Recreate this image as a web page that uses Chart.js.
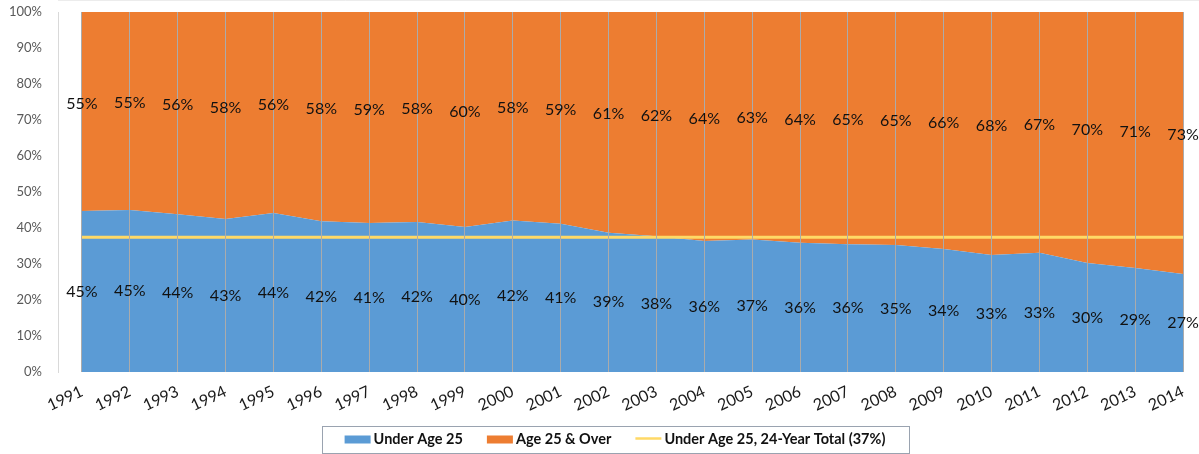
<!DOCTYPE html>
<html>
<head>
<meta charset="utf-8">
<script src="https://cdn.jsdelivr.net/npm/chart.js@4.4.1/dist/chart.umd.min.js"></script>
<style>
html,body{margin:0;padding:0;overflow:hidden;background:#fff;width:1199px;height:454px}
#wrap{position:absolute;left:0;top:0;width:1230px;height:454px}
</style>
</head>
<body>
<div id="wrap"><canvas id="c" width="1230" height="454"></canvas></div>
<script>
// ---- data ----
const years = ['1991','1992','1993','1994','1995','1996','1997','1998','1999','2000','2001','2002','2003','2004','2005','2006','2007','2008','2009','2010','2011','2012','2013','2014'];
const underAge25 = [44.7,45.0,43.8,42.5,44.2,41.9,41.4,41.7,40.3,42.1,41.2,38.7,37.7,36.4,36.8,35.9,35.5,35.3,34.2,32.5,33.1,30.3,28.9,27.2];
const age25Over  = [55.3,55.0,56.2,57.5,55.8,58.1,58.6,58.3,59.7,57.9,58.8,61.3,62.3,63.6,63.2,64.1,64.5,64.7,65.8,67.5,66.9,69.7,71.1,72.8];
const totalUnder25 = [37.4,37.4,37.4,37.4,37.4,37.4,37.4,37.4,37.4,37.4,37.4,37.4,37.4,37.4,37.4,37.4,37.4,37.4,37.4,37.4,37.4,37.4,37.4,37.4];
const yTickValues = [0,10,20,30,40,50,60,70,80,90,100];
const seriesNames = ['Under Age 25','Age 25 & Over','Under Age 25, 24-Year Total (37%)'];

const BLUE = '#5B9BD5', ORANGE = '#ED7D31', YELLOW = '#FFD966';
const FONT = 'Lato, "Open Sans", sans-serif';

const labelPlugin = {
  id: 'areaLabels',
  afterDraw(chart) {
    const ctx = chart.ctx, xs = chart.scales.x, ys = chart.scales.y;
    ctx.save();
    ctx.font = '16px ' + FONT;
    ctx.fillStyle = '#111';
    ctx.textAlign = 'center';
    ctx.textBaseline = 'middle';
    years.forEach((y, i) => {
      const x = xs.getPixelForValue(i);
      const b = underAge25[i], o = age25Over[i];
      ctx.fillText(Math.round(b) + '%', x, ys.getPixelForValue(b / 2));
      ctx.fillText(Math.round(o) + '%', x, ys.getPixelForValue(b + o / 2) - 8);
    });
    ctx.restore();
  }
};

const legendPlugin = {
  id: 'boxLegend',
  afterDraw(chart) {
    const ctx = chart.ctx;
    ctx.save();
    ctx.font = 'bold 14.5px ' + FONT;
    const ds = chart.data.datasets;
    const symW = 26, gap = 3, itemGap = 24, pad = 23;
    const widths = ds.map(d => ctx.measureText(d.label).width);
    let total = 0;
    widths.forEach((w, i) => { total += symW + gap + w + (i ? itemGap : 0); });
    const cx = chart.width / 2;
    const boxL = Math.round(cx - total / 2 - pad) + 0.5;
    const boxW = Math.round(total + 2 * pad);
    const top = 426.5, h = 27, cy = 439.5;
    ctx.strokeStyle = '#9AA3B0';
    ctx.lineWidth = 1;
    ctx.strokeRect(boxL, top, boxW, h);
    let x = cx - total / 2;
    ds.forEach((d, i) => {
      if (d.pointStyle === 'line') {
        ctx.strokeStyle = d.borderColor;
        ctx.lineWidth = 2.5;
        ctx.beginPath(); ctx.moveTo(x, cy - 1); ctx.lineTo(x + symW, cy - 1); ctx.stroke();
      } else {
        ctx.fillStyle = d.backgroundColor;
        ctx.fillRect(x, cy - 4, symW, 8);
      }
      x += symW + gap;
      ctx.fillStyle = '#111';
      ctx.textAlign = 'left';
      ctx.textBaseline = 'middle';
      ctx.fillText(d.label, x, cy);
      x += widths[i] + itemGap;
    });
    ctx.restore();
  }
};

new Chart(document.getElementById('c'), {
  type: 'line',
  data: {
    labels: years,
    datasets: [
      { label: seriesNames[0], data: underAge25, backgroundColor: BLUE, borderColor: 'rgba(0,0,0,0)', borderWidth: 0,
        fill: 'origin', pointRadius: 0, pointStyle: 'rect', stack: 'share', order: 1, tension: 0 },
      { label: seriesNames[1], data: age25Over, backgroundColor: ORANGE, borderColor: 'rgba(0,0,0,0)', borderWidth: 0,
        fill: '-1', pointRadius: 0, pointStyle: 'rect', stack: 'share', order: 1, tension: 0 },
      { label: seriesNames[2], data: totalUnder25, backgroundColor: YELLOW, borderColor: YELLOW, borderWidth: 3,
        fill: false, pointRadius: 0, pointStyle: 'line', stack: 'ref', order: 0, tension: 0 }
    ]
  },
  options: {
    responsive: false,
    animation: false,
    devicePixelRatio: 1,
    layout: { padding: { top: 12, left: 0, right: 23, bottom: 34 } },
    plugins: { legend: { display: false }, tooltip: { enabled: false } },
    scales: {
      x: {
        offset: true,
        grid: { display: true, offset: false, color: '#ABABAB', drawTicks: false, lineWidth: 1, z: 1 },
        border: { display: true, color: '#D9D9D9' },
        ticks: { color: '#1a1a1a', font: { family: FONT, size: 16 }, minRotation: 25, maxRotation: 25, padding: 10, autoSkip: false },
        afterFit(s) { s.height = 48; }
      },
      y: {
        stacked: true,
        min: 0, max: 100,
        afterBuildTicks(s) { s.ticks = yTickValues.map(v => ({ value: v })); },
        grid: { display: false, drawTicks: false },
        border: { display: true, color: '#D9D9D9' },
        ticks: { color: '#595959', font: { family: FONT, size: 13 }, padding: 16, callback: v => v + '%' },
        afterFit(s) { s.width = 58; s.paddingTop = 0; s.paddingBottom = 0; }
      }
    }
  },
  plugins: [labelPlugin, legendPlugin]
});
</script>
</body>
</html>
